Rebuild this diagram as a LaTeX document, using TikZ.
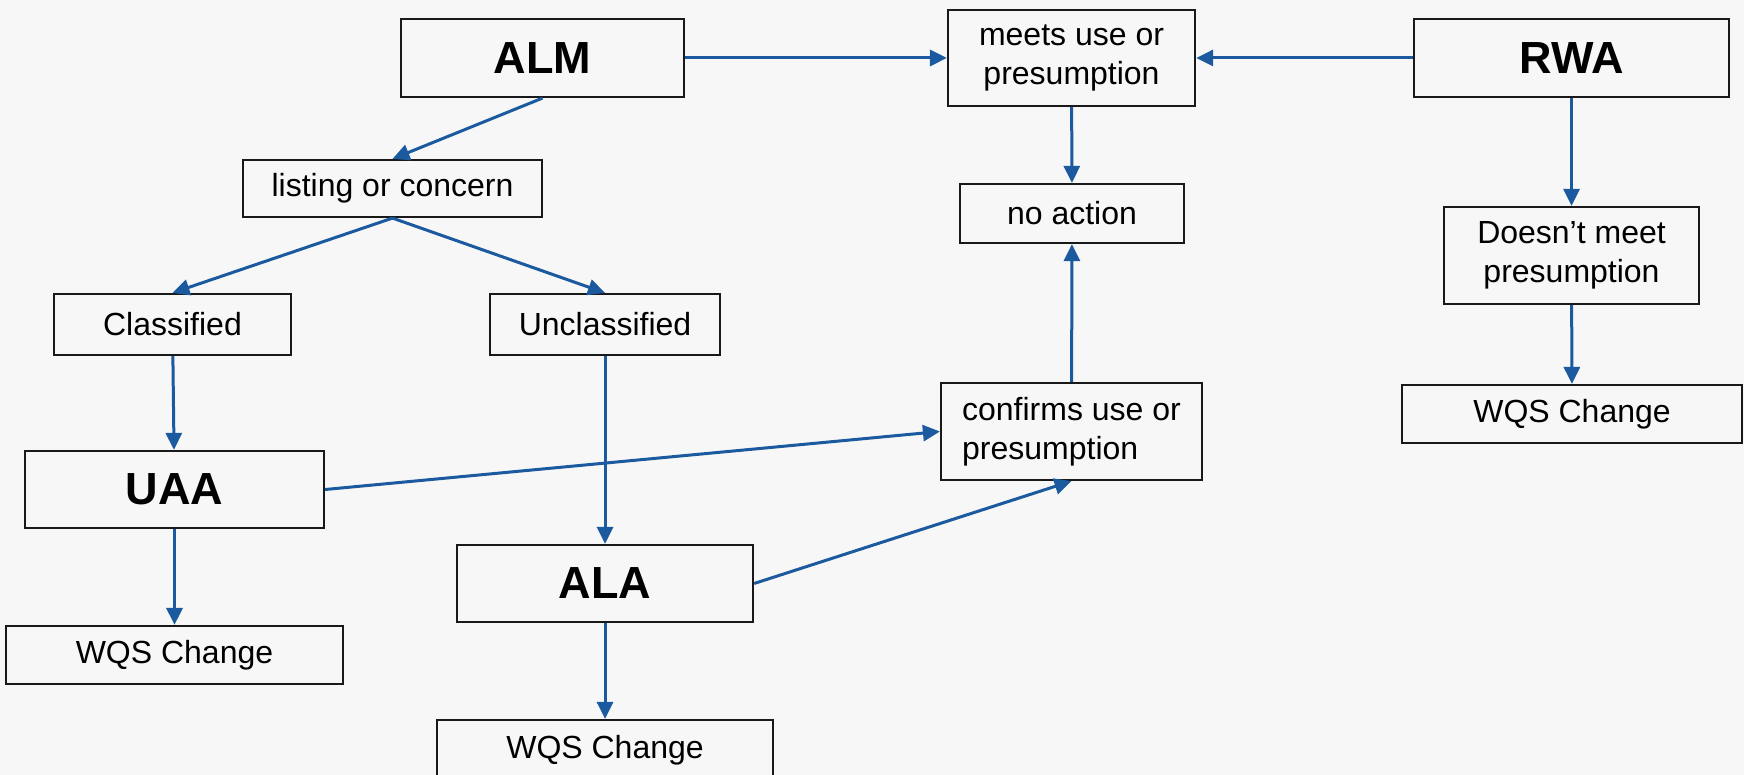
\documentclass[tikz,border=0pt]{standalone}
\usepackage{fontspec}
\setmainfont{Liberation Sans}
\usepackage{tikz}
\usetikzlibrary{arrows.meta, positioning}
\definecolor{flowblue}{RGB}{28,90,160}
\definecolor{paper}{RGB}{247,247,247}
\tikzset{
  box/.style={draw=black!90, line width=2.2pt, inner sep=0pt, align=center,
    font=\fontsize{32pt}{38.5pt}\selectfont},
  big box/.style={box, font=\fontsize{45pt}{50pt}\selectfont\bfseries},
  flow/.style={draw=flowblue, line width=3pt, -{Triangle[length=17pt,width=16pt]}}
}

\begin{document}
\begin{tikzpicture}[x=1pt,y=-1pt]
\useasboundingbox (0,0) rectangle (1744,775);
\fill[paper] (0,0) rectangle (1744,775);
\clip (0,0) rectangle (1744,775);
% top row
\node[big box, minimum width=283pt, minimum height=78pt] (alm) at (542.5,58) {ALM};
\node[box, minimum width=247pt, minimum height=96pt] (meets) at (1071.5,58) {meets use or\\presumption};
\node[big box, minimum width=315pt, minimum height=78pt] (rwa) at (1571.5,58) {RWA};
% second row
\node[box, minimum width=299pt, minimum height=57pt] (listing) at (392.5,188.5) {listing or concern};
\node[box, minimum width=224pt, minimum height=59pt] (noaction) at (1072,213.5) {no action};
\node[box, minimum width=255pt, minimum height=97pt] (doesnt) at (1571.5,255.5) {Doesn’t meet\\presumption};
\node[box, minimum width=237pt, minimum height=61pt] (classified) at (172.5,324.5) {Classified};
\node[box, minimum width=230pt, minimum height=61pt] (unclassified) at (605,324.5) {Unclassified};
% lower part
\node[box, minimum width=261pt, minimum height=97pt, align=left] (confirms) at (1071.5,431.5) {confirms use or\\presumption};
\node[box, minimum width=340pt, minimum height=58pt] (wqsR) at (1572,414) {WQS Change};
\node[big box, minimum width=299pt, minimum height=77pt] (uaa) at (174.5,489.5) {UAA};
\node[big box, minimum width=296pt, minimum height=77pt] (ala) at (605,583.5) {ALA};
\node[box, minimum width=337pt, minimum height=58pt] (wqsL) at (174.5,655) {WQS Change};
\node[box, minimum width=336pt, minimum height=60pt] (wqsB) at (605,750) {WQS Change};

\draw[flow] (alm) -- (meets);
\draw[flow] (rwa) -- (meets);
\draw[flow] (alm.south) -- (listing.north);
\draw[flow] (listing.south) -- (classified.north);
\draw[flow] (listing.south) -- (unclassified.north);
\draw[flow] (meets) -- (noaction);
\draw[flow] (confirms) -- (noaction);
\draw[flow] (rwa) -- (doesnt);
\draw[flow] (doesnt) -- (wqsR);
\draw[flow] (classified) -- (uaa);
\draw[flow] (uaa) -- (wqsL);
\draw[flow] (unclassified) -- (ala);
\draw[flow] (ala) -- (wqsB);
\draw[flow] (uaa.east) -- (confirms.west);
\draw[flow] (ala.east) -- (confirms.south);
\end{tikzpicture}
\end{document}
